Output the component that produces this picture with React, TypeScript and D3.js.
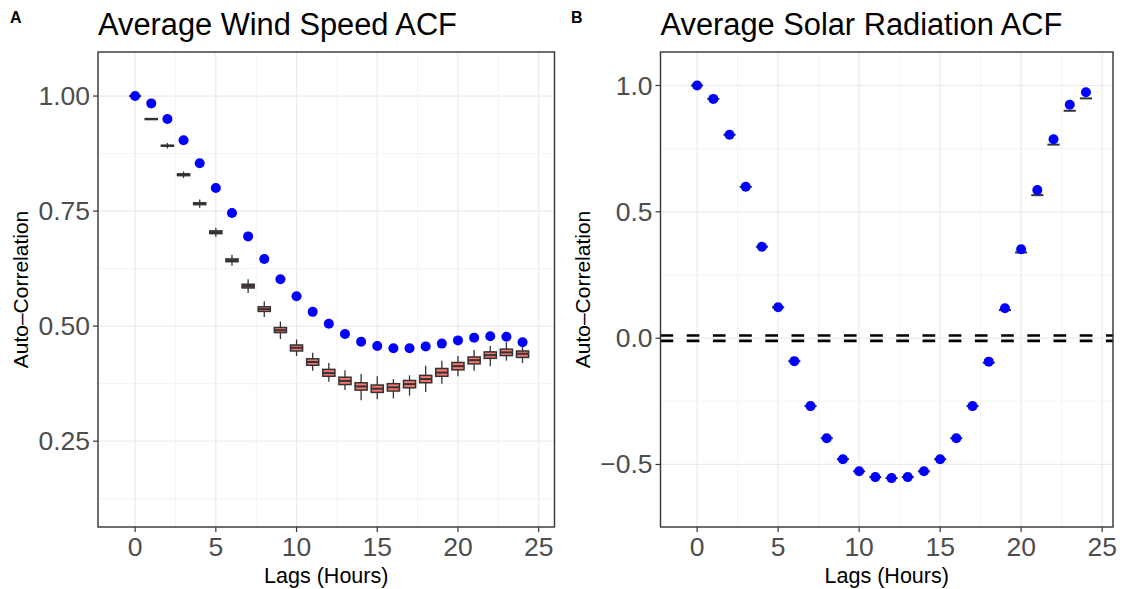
import React from "react";
import * as d3 from "d3";

// ---------- Data ----------
const lags = d3.range(0, 25);

// Panel A: wind speed – average ACF points (blue)
const windMean = [1.0, 0.984, 0.95, 0.904, 0.854, 0.8, 0.746, 0.695, 0.646, 0.602, 0.565, 0.531, 0.505, 0.483, 0.466, 0.457, 0.452, 0.452, 0.456, 0.462, 0.469, 0.475, 0.478, 0.477, 0.465];
// Panel A boxplots
const windMed = [1.0, 0.95, 0.892, 0.829, 0.766, 0.704, 0.643, 0.587, 0.537, 0.491, 0.453, 0.422, 0.398, 0.381, 0.369, 0.364, 0.367, 0.374, 0.385, 0.399, 0.413, 0.426, 0.437, 0.443, 0.44];
const windQ1 = [1.0, 0.949, 0.891, 0.827, 0.764, 0.701, 0.64, 0.583, 0.532, 0.486, 0.446, 0.415, 0.391, 0.373, 0.361, 0.356, 0.359, 0.366, 0.377, 0.391, 0.405, 0.418, 0.43, 0.436, 0.432];
const windQ3 = [1.0, 0.951, 0.893, 0.831, 0.768, 0.707, 0.646, 0.591, 0.542, 0.497, 0.459, 0.429, 0.406, 0.389, 0.377, 0.372, 0.375, 0.382, 0.393, 0.408, 0.421, 0.433, 0.444, 0.45, 0.446];
const windLo = [1.0, 0.948, 0.886, 0.822, 0.757, 0.694, 0.631, 0.572, 0.52, 0.472, 0.435, 0.403, 0.379, 0.361, 0.339, 0.341, 0.343, 0.349, 0.357, 0.375, 0.391, 0.403, 0.413, 0.425, 0.42];
const windHi = [1.0, 0.952, 0.898, 0.836, 0.775, 0.714, 0.655, 0.602, 0.554, 0.51, 0.471, 0.442, 0.42, 0.404, 0.396, 0.391, 0.385, 0.393, 0.414, 0.425, 0.435, 0.448, 0.457, 0.465, 0.455];

// Panel B: solar radiation
const solarMean = [1.0, 0.947, 0.805, 0.599, 0.362, 0.122, -0.091, -0.269, -0.396, -0.479, -0.527, -0.55, -0.554, -0.55, -0.527, -0.479, -0.396, -0.269, -0.093, 0.118, 0.352, 0.586, 0.787, 0.924, 0.973];
const solarMed = [1.0, 0.947, 0.805, 0.599, 0.362, 0.122, -0.091, -0.269, -0.396, -0.479, -0.527, -0.55, -0.554, -0.55, -0.527, -0.479, -0.396, -0.269, -0.097, 0.111, 0.339, 0.566, 0.766, 0.9, 0.949];
const solarBand = [0.0105, -0.0105];

const xTicks = [0, 5, 10, 15, 20, 25];
const xMinor = [2.5, 7.5, 12.5, 17.5, 22.5];
const yTicksA = [0.25, 0.5, 0.75, 1.0];
const yMinorA = [0.125, 0.375, 0.625, 0.875];
const yTicksB = [-0.5, 0.0, 0.5, 1.0];
const yMinorB = [-0.25, 0.25, 0.75];

const FONT = "'Liberation Sans', Arial, Helvetica, sans-serif";
const GRID = "#EBEBEB";
const DARK = "#333333";
const TICKTXT = "#4D4D4D";

type Panel = {
  tag: string;
  tagX: number;
  title: string;
  left: number;
  right: number;
  top: number;
  bottom: number;
  xDomain: [number, number];
  yDomain: [number, number];
  yTicks: number[];
  yMinor: number[];
  yFmt: (v: number) => string;
  yTitleX: number;
};

const panelA: Panel = {
  tag: "A", tagX: 10, title: "Average Wind Speed ACF",
  left: 98, right: 554.5, top: 52, bottom: 527,
  xDomain: [-2.3, 25.98], yDomain: [0.0635, 1.0957],
  yTicks: yTicksA, yMinor: yMinorA, yFmt: (v) => v.toFixed(2), yTitleX: 28,
};
const panelB: Panel = {
  tag: "B", tagX: 571, title: "Average Solar Radiation ACF",
  left: 660.5, right: 1113, top: 52, bottom: 527,
  xDomain: [-2.26, 25.67], yDomain: [-0.7475, 1.1326],
  yTicks: yTicksB, yMinor: yMinorB, yFmt: (v) => (v < 0 ? "\u2212" + Math.abs(v).toFixed(1) : v.toFixed(1)), yTitleX: 590,
};

function PanelFrame({ p, children }: { p: Panel; children: (x: d3.ScaleLinear<number, number>, y: d3.ScaleLinear<number, number>) => React.ReactNode }) {
  const x = d3.scaleLinear().domain(p.xDomain).range([p.left, p.right]);
  const y = d3.scaleLinear().domain(p.yDomain).range([p.bottom, p.top]);
  const cx = (p.left + p.right) / 2;
  const cy = (p.top + p.bottom) / 2;
  return (
    <g>
      <text x={p.tagX} y={23} fontFamily={FONT} fontWeight="bold" fontSize={16} fill="#000">{p.tag}</text>
      <text x={p.left} y={35} fontFamily={FONT} fontSize={30.8} fill="#000">{p.title}</text>
      <rect x={p.left} y={p.top} width={p.right - p.left} height={p.bottom - p.top} fill="#fff" />
      {/* minor grid */}
      {p.yMinor.map((v) => (
        <line key={"ym" + v} x1={p.left} x2={p.right} y1={y(v)} y2={y(v)} stroke={GRID} strokeWidth={0.6} />
      ))}
      {xMinor.map((v) => (
        <line key={"xm" + v} x1={x(v)} x2={x(v)} y1={p.top} y2={p.bottom} stroke={GRID} strokeWidth={0.6} />
      ))}
      {/* major grid */}
      {p.yTicks.map((v) => (
        <line key={"yM" + v} x1={p.left} x2={p.right} y1={y(v)} y2={y(v)} stroke={GRID} strokeWidth={1.2} />
      ))}
      {xTicks.map((v) => (
        <line key={"xM" + v} x1={x(v)} x2={x(v)} y1={p.top} y2={p.bottom} stroke={GRID} strokeWidth={1.2} />
      ))}
      {children(x, y)}
      <rect x={p.left} y={p.top} width={p.right - p.left} height={p.bottom - p.top} fill="none" stroke={DARK} strokeWidth={1.4} />
      {/* ticks */}
      {p.yTicks.map((v) => (
        <g key={"yt" + v}>
          <line x1={p.left - 5} x2={p.left} y1={y(v)} y2={y(v)} stroke={DARK} strokeWidth={1.2} />
          <text x={p.left - 8} y={y(v) + 9} textAnchor="end" fontFamily={FONT} fontSize={26.5} fill={TICKTXT}>{p.yFmt(v)}</text>
        </g>
      ))}
      {xTicks.map((v) => (
        <g key={"xt" + v}>
          <line x1={x(v)} x2={x(v)} y1={p.bottom} y2={p.bottom + 5} stroke={DARK} strokeWidth={1.2} />
          <text x={x(v)} y={p.bottom + 29} textAnchor="middle" fontFamily={FONT} fontSize={26.5} fill={TICKTXT}>{v}</text>
        </g>
      ))}
      <text x={cx} y={583} textAnchor="middle" fontFamily={FONT} fontSize={21.5} fill="#000">Lags (Hours)</text>
      <text transform={`translate(${p.yTitleX},${cy}) rotate(-90)`} textAnchor="middle" fontFamily={FONT} fontSize={21} fill="#000">Auto–Correlation</text>
    </g>
  );
}

function Boxes({ x, y, med, q1, q3, lo, hi }: { x: d3.ScaleLinear<number, number>; y: d3.ScaleLinear<number, number>; med: number[]; q1: number[]; q3: number[]; lo: number[]; hi: number[] }) {
  const bw = 0.75;
  return (
    <g>
      {lags.map((l, i) => {
        const x0 = x(l - bw / 2);
        const x1 = x(l + bw / 2);
        const yq3 = y(q3[i]);
        const yq1 = y(q1[i]);
        return (
          <g key={"b" + l}>
            <line x1={x(l)} x2={x(l)} y1={y(hi[i])} y2={yq3} stroke={DARK} strokeWidth={1.3} />
            <line x1={x(l)} x2={x(l)} y1={yq1} y2={y(lo[i])} stroke={DARK} strokeWidth={1.3} />
            <rect x={x0} y={yq3} width={x1 - x0} height={Math.max(0, yq1 - yq3)} fill="#F8766D" stroke={DARK} strokeWidth={1.5} />
            <line x1={x0} x2={x1} y1={y(med[i])} y2={y(med[i])} stroke={DARK} strokeWidth={2} />
          </g>
        );
      })}
    </g>
  );
}

export default function App() {
  return (
    <svg width={1124} height={589} style={{ position: "absolute", left: 0, top: 0, background: "#fff" }}>
      <rect x={0} y={0} width={1124} height={589} fill="#fff" />
      <PanelFrame p={panelA}>
        {(x, y) => (
          <g>
            <Boxes x={x} y={y} med={windMed} q1={windQ1} q3={windQ3} lo={windLo} hi={windHi} />
            {lags.map((l, i) => (
              <circle key={"pa" + l} cx={x(l)} cy={y(windMean[i])} r={5} fill="#0000FF" />
            ))}
          </g>
        )}
      </PanelFrame>
      <PanelFrame p={panelB}>
        {(x, y) => (
          <g>
            <Boxes x={x} y={y} med={solarMed} q1={solarMed} q3={solarMed} lo={solarMed} hi={solarMed} />
            {lags.map((l, i) => (
              <circle key={"pb" + l} cx={x(l)} cy={y(solarMean[i])} r={5} fill="#0000FF" />
            ))}
            {solarBand.map((v) => (
              <line key={"h" + v} x1={panelB.left} x2={panelB.right} y1={y(v)} y2={y(v)} stroke="#000" strokeWidth={2.7} strokeDasharray="12.7 13.5" />
            ))}
          </g>
        )}
      </PanelFrame>
    </svg>
  );
}
